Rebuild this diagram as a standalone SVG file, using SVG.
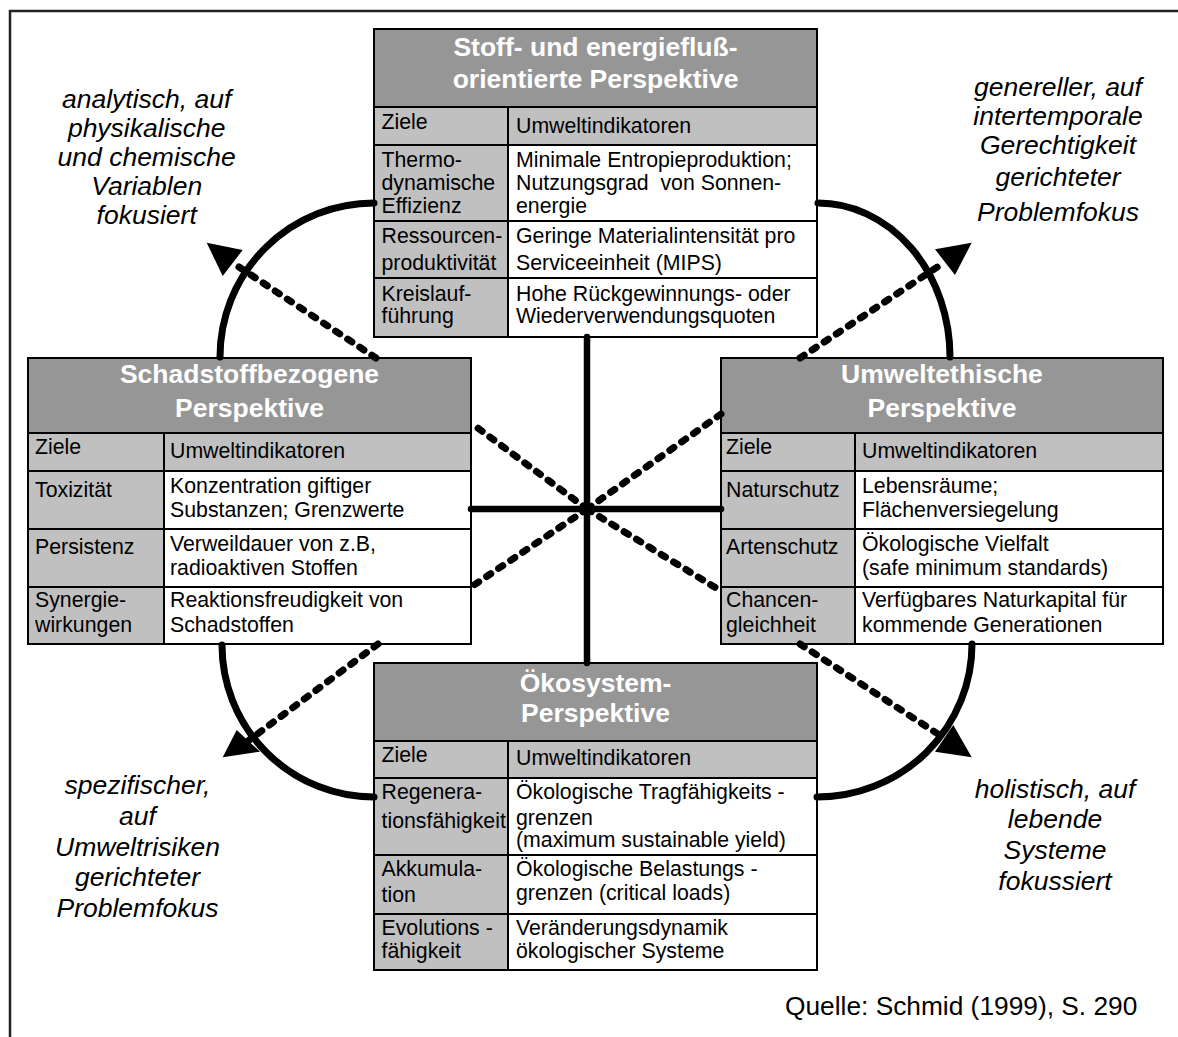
<svg xmlns="http://www.w3.org/2000/svg" width="1178" height="1037" viewBox="0 0 1178 1037">
<style>
text{font-family:"Liberation Sans",Arial,sans-serif;fill:#000}
.hd{font-size:26.5px;font-weight:bold;fill:#fff;text-anchor:middle}
.b{font-size:21.3px}
.c{font-size:26.5px;font-style:italic;text-anchor:middle}
.q{font-size:26.3px}
.hf{fill:#969696}
.lg{fill:#c0c0c0}
.wh{fill:#fff}
.ln{stroke:#000;stroke-width:2;fill:none}
.solid{stroke:#000;stroke-width:6.5;fill:none;stroke-linecap:round}
.arc{stroke:#000;stroke-width:7;fill:none;stroke-linecap:round}
.dash{stroke:#000;stroke-width:7;fill:none;stroke-linecap:round;stroke-dasharray:5 9.5}
.ah{fill:#000}
</style>
<rect x="10" y="11" width="1200" height="1100" fill="none" stroke="#222" stroke-width="2.5"/>

<g id="top-table">
<rect class="wh" x="374" y="29" width="443" height="308"/>
<rect class="hf" x="374" y="29" width="443" height="78"/>
<rect class="lg" x="374" y="107" width="443" height="38"/>
<rect class="lg" x="374" y="145" width="134" height="192"/>
<path class="ln" d="M374,107H817M374,145H817M374,221H817M374,278H817M508,107V337"/>
<rect class="ln" x="374" y="29" width="443" height="308"/>
<text class="hd" x="595.5" y="56">Stoff- und energiefluß-</text>
<text class="hd" x="595.5" y="88.3">orientierte Perspektive</text>
<text class="b" x="381.5" y="129">Ziele</text>
<text class="b" x="516" y="132.7">Umweltindikatoren</text>
<text class="b" x="381.5" y="166.7">Thermo-</text>
<text class="b" x="381.5" y="190">dynamische</text>
<text class="b" x="381.5" y="213.3">Effizienz</text>
<text class="b" x="516" y="166.7">Minimale Entropieproduktion;</text>
<text class="b" x="516" y="190">Nutzungsgrad&#160; von Sonnen-</text>
<text class="b" x="516" y="213.3">energie</text>
<text class="b" x="381.5" y="242.7">Ressourcen-</text>
<text class="b" x="381.5" y="270">produktivität</text>
<text class="b" x="516" y="242.7">Geringe Materialintensität pro</text>
<text class="b" x="516" y="270">Serviceeinheit (MIPS)</text>
<text class="b" x="381.5" y="300.7">Kreislauf-</text>
<text class="b" x="381.5" y="323.3">führung</text>
<text class="b" x="516" y="300.7">Hohe Rückgewinnungs- oder</text>
<text class="b" x="516" y="323.3">Wiederverwendungsquoten</text>
</g>

<g id="left-table">
<rect class="wh" x="28" y="358" width="443" height="286"/>
<rect class="hf" x="28" y="358" width="443" height="75"/>
<rect class="lg" x="28" y="433" width="443" height="38"/>
<rect class="lg" x="28" y="471" width="136" height="173"/>
<path class="ln" d="M28,433H471M28,471H471M28,529H471M28,587H471M164,433V644"/>
<rect class="ln" x="28" y="358" width="443" height="286"/>
<text class="hd" x="249.5" y="382.5">Schadstoffbezogene</text>
<text class="hd" x="249.5" y="416.5">Perspektive</text>
<text class="b" x="35" y="454.3">Ziele</text>
<text class="b" x="170" y="458.3">Umweltindikatoren</text>
<text class="b" x="35" y="496.7">Toxizität</text>
<text class="b" x="170" y="492.7">Konzentration giftiger</text>
<text class="b" x="170" y="516.7">Substanzen; Grenzwerte</text>
<text class="b" x="35" y="554">Persistenz</text>
<text class="b" x="170" y="551">Verweildauer von z.B,</text>
<text class="b" x="170" y="575">radioaktiven Stoffen</text>
<text class="b" x="35" y="606.7">Synergie-</text>
<text class="b" x="35" y="631.7">wirkungen</text>
<text class="b" x="170" y="606.7">Reaktionsfreudigkeit von</text>
<text class="b" x="170" y="631.7">Schadstoffen</text>
</g>

<g id="right-table">
<rect class="wh" x="721" y="358" width="442" height="286"/>
<rect class="hf" x="721" y="358" width="442" height="75"/>
<rect class="lg" x="721" y="433" width="442" height="38"/>
<rect class="lg" x="721" y="471" width="134" height="173"/>
<path class="ln" d="M721,433H1163M721,471H1163M721,529H1163M721,587H1163M855,433V644"/>
<rect class="ln" x="721" y="358" width="442" height="286"/>
<text class="hd" x="942" y="382.5">Umweltethische</text>
<text class="hd" x="942" y="416.5">Perspektive</text>
<text class="b" x="726" y="454.3">Ziele</text>
<text class="b" x="862" y="458.3">Umweltindikatoren</text>
<text class="b" x="726" y="496.7">Naturschutz</text>
<text class="b" x="862" y="492.7">Lebensräume;</text>
<text class="b" x="862" y="516.7">Flächenversiegelung</text>
<text class="b" x="726" y="554">Artenschutz</text>
<text class="b" x="862" y="551">Ökologische Vielfalt</text>
<text class="b" x="862" y="575">(safe minimum standards)</text>
<text class="b" x="726" y="606.7">Chancen-</text>
<text class="b" x="726" y="631.7">gleichheit</text>
<text class="b" x="862" y="606.7">Verfügbares Naturkapital für</text>
<text class="b" x="862" y="631.7">kommende Generationen</text>
</g>

<g id="bottom-table">
<rect class="wh" x="374" y="663" width="443" height="307"/>
<rect class="hf" x="374" y="663" width="443" height="78"/>
<rect class="lg" x="374" y="741" width="443" height="37"/>
<rect class="lg" x="374" y="778" width="134" height="192"/>
<path class="ln" d="M374,741H817M374,778H817M374,855H817M374,914H817M508,741V970"/>
<rect class="ln" x="374" y="663" width="443" height="307"/>
<text class="hd" x="595.5" y="691.7">Ökosystem-</text>
<text class="hd" x="595.5" y="721.7">Perspektive</text>
<text class="b" x="381.5" y="761.7">Ziele</text>
<text class="b" x="516" y="765">Umweltindikatoren</text>
<text class="b" x="381.5" y="799.3">Regenera-</text>
<text class="b" x="381.5" y="828.3">tionsfähigkeit</text>
<text class="b" x="516" y="799.3">Ökologische Tragfähigkeits -</text>
<text class="b" x="516" y="825">grenzen</text>
<text class="b" x="516" y="847">(maximum sustainable yield)</text>
<text class="b" x="381.5" y="876">Akkumula-</text>
<text class="b" x="381.5" y="901.7">tion</text>
<text class="b" x="516" y="876">Ökologische Belastungs -</text>
<text class="b" x="516" y="900">grenzen (critical loads)</text>
<text class="b" x="381.5" y="935">Evolutions -</text>
<text class="b" x="381.5" y="958.3">fähigkeit</text>
<text class="b" x="516" y="935">Veränderungsdynamik</text>
<text class="b" x="516" y="958.3">ökologischer Systeme</text>
</g>

<g id="connectors">
<path class="solid" d="M587,337V663M471,509H721"/>
<path class="arc" d="M374,203A154,154 0 0 0 220,357"/>
<path class="arc" d="M818,203A132,154 0 0 1 950,357"/>
<path class="arc" d="M222,645A152,152 0 0 0 374,797"/>
<path class="arc" d="M972,644A155,153 0 0 1 817,797"/>
<path class="dash" d="M587,509L471,423"/>
<path class="dash" d="M587,509L721,414"/>
<path class="dash" d="M587,509L471,587"/>
<path class="dash" d="M587,509L721,591"/>
<path class="dash" d="M376,358L233,263"/>
<path class="dash" d="M800,358L945,262"/>
<path class="dash" d="M378,644L248,741"/>
<path class="dash" d="M800,644L944,738"/>
<polygon class="ah" points="206.7,242.7 222.7,276 242.7,250"/>
<polygon class="ah" points="971.7,242.7 935,249.3 955,275"/>
<polygon class="ah" points="222.7,757.3 236.7,730 260,751.7"/>
<polygon class="ah" points="971.7,757.3 935,751.7 953.3,725"/>
</g>

<g id="label-top-left">
<text class="c" x="146.7" y="108">analytisch, auf</text>
<text class="c" x="146.7" y="137">physikalische</text>
<text class="c" x="146.7" y="166">und chemische</text>
<text class="c" x="146.7" y="195">Variablen</text>
<text class="c" x="146.7" y="224">fokusiert</text>
</g>
<g id="label-top-right">
<text class="c" x="1058" y="96">genereller, auf</text>
<text class="c" x="1058" y="125">intertemporale</text>
<text class="c" x="1058" y="154">Gerechtigkeit</text>
<text class="c" x="1058" y="186">gerichteter</text>
<text class="c" x="1058" y="221">Problemfokus</text>
</g>
<g id="label-bottom-left">
<text class="c" x="137.5" y="794">spezifischer,</text>
<text class="c" x="137.5" y="825">auf</text>
<text class="c" x="137.5" y="855.5">Umweltrisiken</text>
<text class="c" x="137.5" y="886">gerichteter</text>
<text class="c" x="137.5" y="917">Problemfokus</text>
</g>
<g id="label-bottom-right">
<text class="c" x="1055" y="798">holistisch, auf</text>
<text class="c" x="1055" y="828">lebende</text>
<text class="c" x="1055" y="859">Systeme</text>
<text class="c" x="1055" y="890">fokussiert</text>
</g>
<text class="q" x="785" y="1015">Quelle: Schmid (1999), S. 290</text>
</svg>
